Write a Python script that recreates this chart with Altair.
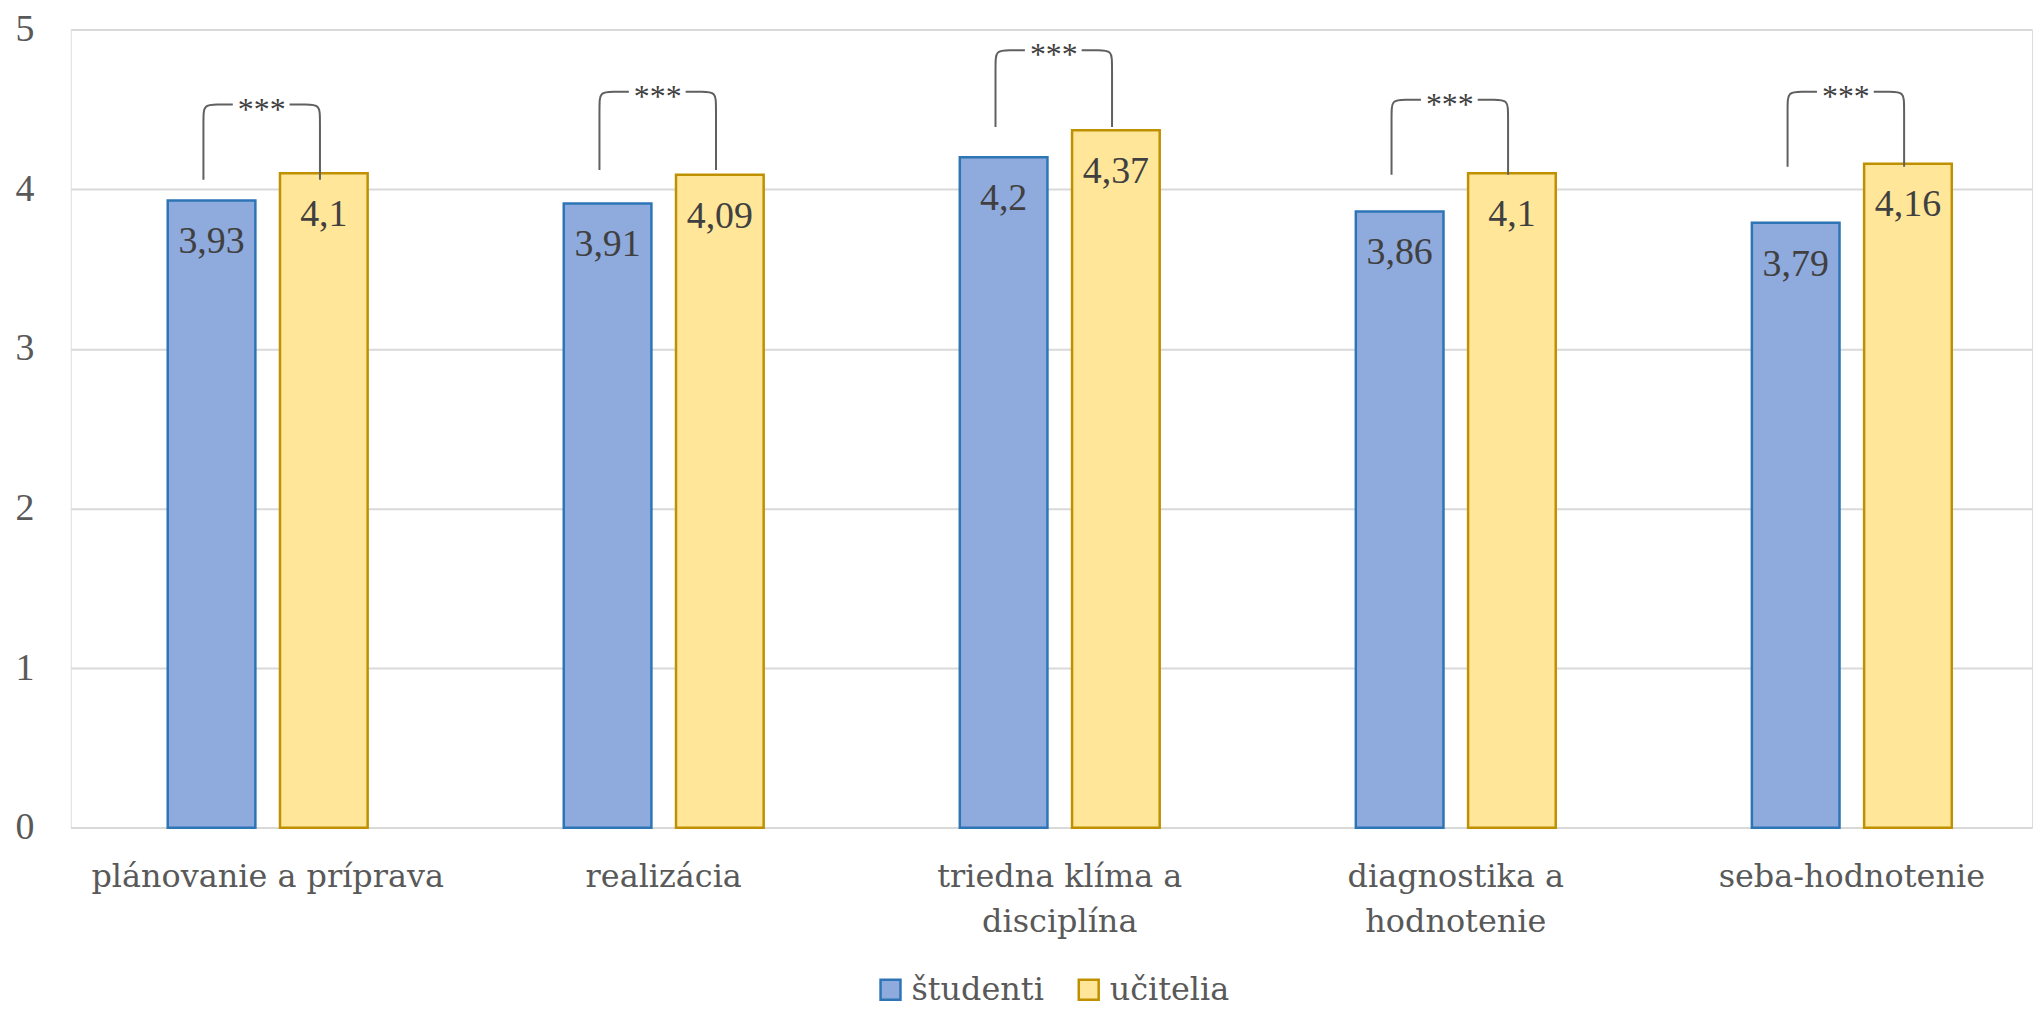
import altair as alt
import pandas as pd

# ---------------- data ----------------
categories = ["plánovanie a príprava", "realizácia", "triedna klíma a disciplína",
              "diagnostika a hodnotenie", "seba-hodnotenie"]
label_lines = [["plánovanie a príprava"], ["realizácia"], ["triedna klíma a", "disciplína"],
               ["diagnostika a", "hodnotenie"], ["seba-hodnotenie"]]
groups = ["študenti", "učitelia"]
studenti = [3.93, 3.91, 4.20, 3.86, 3.79]
ucitelia = [4.10, 4.09, 4.37, 4.10, 4.16]
significance = ["***", "***", "***", "***", "***"]
bracket_top = [4.53, 4.61, 4.87, 4.56, 4.61]
bracket_bottom = [4.06, 4.12, 4.39, 4.09, 4.14]

# ---------------- layout (px) ----------------
W, H = 1969, 801.3
PL, PT, PR, PB = 63, 19.7, 2, 181
STEP = 397.6          # distance between category centres
C0 = 197.7            # first category centre from plot left
BAR_W = 88
CENTER_DIST = 112.7
n = len(categories)
inner = BAR_W + CENTER_DIST
p_in = 1 - inner / STEP
po = (W / STEP - n + p_in) / 2
align = (C0 - inner / 2) / (W - STEP * (n - p_in))
q_in = (inner - 2 * BAR_W) / (inner - BAR_W)
YPX = H / 5.0

FILL = ["#8FAADC", "#FFE699"]
STROKE = ["#2E75B6", "#BF9000"]
GRAY = "#595959"

rows = []
for c, s, u in zip(categories, studenti, ucitelia):
    for g, v in zip(groups, (s, u)):
        rows.append({"cat": c, "grp": g, "val": v, "lbl": f"{v:g}".replace(".", ",")})
bars_df = pd.DataFrame(rows)

# bracket paths (x in category-index units, y in data units)
rx = 14 / STEP
ry = 14 / YPX
line_rows = []
star_rows = []
for i, (top, bot, sig) in enumerate(zip(bracket_top, bracket_bottom, significance)):
    xl = i - 64.5 / STEP
    xr = i + 52.5 / STEP
    gl = i - 35 / STEP
    gr = i + 22 / STEP
    left = [(xl, bot), (xl, top - ry), (xl, top), (xl + rx, top), (gl, top)]
    right = [(gr, top), (xr - rx, top), (xr, top), (xr, top - ry), (xr, bot)]
    for side, pts in (("L", left), ("R", right)):
        for k, (px, py) in enumerate(pts):
            line_rows.append({"seg": f"{i}{side}", "k": k, "bx": px, "by": py})
    star_rows.append({"sx": i - 6 / STEP, "sy": top, "t": sig})
lines_df = pd.DataFrame(line_rows)
stars_df = pd.DataFrame(star_rows)

label_expr = " : ".join(
    f"datum.value == '{c}' ? {ll!r}" for c, ll in zip(categories, label_lines)
) + " : datum.label"

y_scale = alt.Scale(domain=[0, 5], nice=False)
x_band = alt.Scale(domain=categories, paddingInner=p_in, paddingOuter=po, align=align)
xo_scale = alt.Scale(domain=groups, paddingInner=q_in, paddingOuter=0)
q_scale = alt.Scale(domain=[-C0 / STEP, (W - C0) / STEP], nice=False, zero=False)

y_axis = alt.Axis(values=[0, 1, 2, 3, 4, 5], format="d", labelFont="Liberation Serif",
                  labelFontSize=38, labelColor=GRAY, labelPadding=37,
                  ticks=False, domain=False, gridColor="#D9D9D9", gridWidth=2)

legend = alt.Legend(title=None, orient="none", legendX=807, legendY=948,
                    direction="horizontal", symbolType="square",
                    symbolSize=400, symbolStrokeWidth=2.5,
                    labelFont="DejaVu Serif", labelFontSize=32,
                    labelColor=GRAY, labelOffset=5, columnPadding=28)

base = alt.Chart(bars_df)

bars = base.mark_bar(strokeWidth=2.5).encode(
    x=alt.X("cat:N", scale=x_band, sort=categories, title=None,
            axis=alt.Axis(labelAngle=0, labelFont="DejaVu Serif", labelFontSize=32,
                          labelColor=GRAY, labelPadding=34, labelLineHeight=45,
                          labelBaseline="top", labelLimit=0, ticks=False, domain=False,
                          labelExpr=label_expr)),
    xOffset=alt.XOffset("grp:N", scale=xo_scale, sort=groups),
    y=alt.Y("val:Q", scale=y_scale, title=None, axis=y_axis),
    fill=alt.Fill("grp:N", scale=alt.Scale(domain=groups, range=FILL), sort=groups,
                  legend=legend),
    stroke=alt.Stroke("grp:N", scale=alt.Scale(domain=groups, range=STROKE), sort=groups,
                      legend=legend),
)

values = base.mark_text(font="Liberation Serif", fontSize=38, color="#404040",
                        baseline="alphabetic", dy=53).encode(
    x=alt.X("cat:N", scale=x_band, sort=categories, axis=None),
    xOffset=alt.XOffset("grp:N", scale=xo_scale, sort=groups),
    y=alt.Y("val:Q", scale=y_scale, title=None, axis=y_axis),
    text="lbl:N",
)

brackets = alt.Chart(lines_df).mark_line(color="#606060", strokeWidth=2,
                                         interpolate="basis").encode(
    x=alt.X("bx:Q", scale=q_scale, axis=None),
    y=alt.Y("by:Q", scale=y_scale, title=None, axis=y_axis),
    detail="seg:N",
    order="k:Q",
)

stars = alt.Chart(stars_df).mark_text(font="Liberation Serif", fontSize=32,
                                      color="#404040", baseline="alphabetic",
                                      dy=15).encode(
    x=alt.X("sx:Q", scale=q_scale, axis=None),
    y=alt.Y("sy:Q", scale=y_scale, title=None, axis=y_axis),
    text="t:N",
)

chart = alt.layer(bars, values, brackets, stars).resolve_scale(
    x="independent"
).properties(
    width=W, height=H,
    autosize=alt.AutoSizeParams(type="none"),
    padding={"left": PL, "top": PT, "right": PR, "bottom": PB},
).configure_view(stroke=None).configure(background="white")

chart.save("out.html", embed_options={"renderer": "svg", "actions": False})
